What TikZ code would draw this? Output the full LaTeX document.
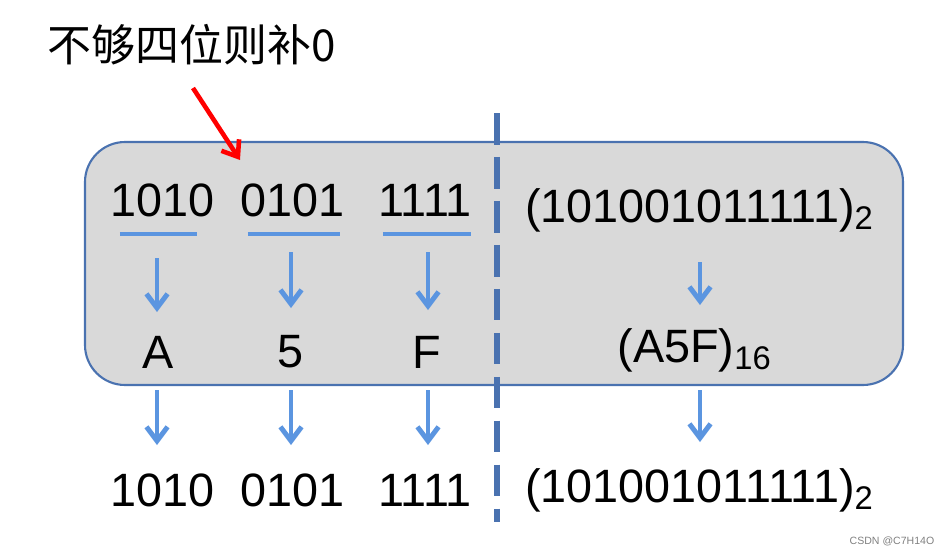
\documentclass[tikz,border=0pt]{standalone}
\usepackage{fontspec}
\setmainfont{Liberation Sans}
\newfontfamily\cjk{Noto Sans CJK SC}
\usetikzlibrary{arrows.meta}
\definecolor{boxfill}{HTML}{D9D9D9}
\definecolor{boxline}{HTML}{4A72B0}
\definecolor{arrblue}{HTML}{5B95E0}
\begin{document}
\begin{tikzpicture}[x=0.01cm,y=-0.01cm,
    num/.style={font=\fontsize{13.3}{16}\selectfont,inner sep=0pt},
    down/.style={-{Straight Barb[length=4pt,width=6pt]},arrblue,line width=1.4pt},
    bar/.style={arrblue,line width=1.3pt}]
  \useasboundingbox (0,0) rectangle (950,557);

  \draw[boxline,fill=boxfill,line width=0.6pt,rounded corners=0.4cm] (85,142) rectangle (903,385);
  \draw[boxline,line width=1.5pt,dash pattern=on 9pt off 3.5pt] (497,113) -- (497,522);

  % groups of four bits
  \node[num] (g1) at (163,200) {1010};
  \node[num] (g2) at (293,200) {0101};
  \node[num] (g3) at (425,200) {1111};
  \node[num] (h1) at (158,352) {A};
  \node[num] (h2) at (291,352) {5};
  \node[num] (h3) at (427,352) {F};
  \node[num] (b1) at (163,490) {1010};
  \node[num] (b2) at (293,490) {0101};
  \node[num] (b3) at (425,490) {1111};

  \draw[bar] (120,234) -- (197,234);
  \draw[bar] (248,234) -- (340,234);
  \draw[bar] (383,234) -- (471,234);

  \coordinate (u1) at (157,258); \coordinate (v1) at (157,312);
  \coordinate (u2) at (291,252); \coordinate (v2) at (291,308);
  \coordinate (u3) at (428,252); \coordinate (v3) at (428,310);
  \coordinate (w1) at (157,390); \coordinate (z1) at (157,445);
  \coordinate (w2) at (291,390); \coordinate (z2) at (291,445);
  \coordinate (w3) at (428,390); \coordinate (z3) at (428,445);
  \foreach \i in {1,2,3} {
    \draw[down] (u\i) -- (v\i);
    \draw[down] (w\i) -- (z\i);
  }

  % whole number
  \node[num] (bin) at (700,210) {(101001011111)\textsubscript{2}};
  \node[num] (hex) at (695,350) {(A5F)\textsubscript{16}};
  \node[num] (bin2) at (700,490) {(101001011111)\textsubscript{2}};
  \coordinate (u4) at (700,262); \coordinate (v4) at (700,305);
  \coordinate (w4) at (700,390); \coordinate (z4) at (700,442);
  \draw[down] (u4) -- (v4);
  \draw[down] (w4) -- (z4);

  % note
  \node[font=\cjk\fontsize{12.5}{15}\selectfont,inner sep=0pt,anchor=west] (note) at (47,45) {不够四位则补0};
  \coordinate (p) at (193,88); \coordinate (q) at (240,160);
  \draw[-{Straight Barb[length=4pt,width=6pt]},red,line width=1.3pt] (p) -- (q);

  \node[font=\fontsize{3}{4}\selectfont,gray,anchor=east,inner sep=0pt] (mark) at (935,541) {CSDN @C7H14O};
\end{tikzpicture}
\end{document}
